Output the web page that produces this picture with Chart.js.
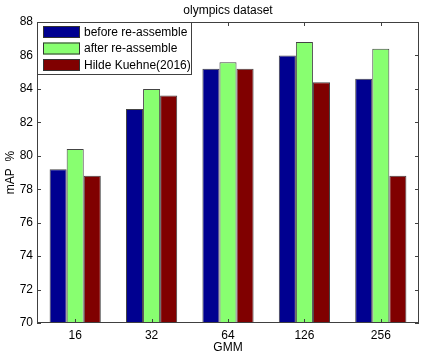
<!DOCTYPE html>
<html>
<head>
<meta charset="utf-8">
<script src="https://cdn.jsdelivr.net/npm/chart.js@4"></script>
<style>
  html, body { margin: 0; padding: 0; background: #fff; }
  #wrap { width: 425px; height: 356px; }
</style>
</head>
<body>
<div id="wrap"><canvas id="c" width="425" height="356"></canvas></div>
<script>
const categories = ['16', '32', '64', '126', '256'];
const beforeReassemble = [79.2, 82.8, 85.2, 86.0, 84.6];
const afterReassemble  = [80.4, 84.0, 85.6, 86.8, 86.4];
const hildeKuehne      = [78.8, 83.6, 85.2, 84.4, 78.8];
const yTicks = [70, 72, 74, 76, 78, 80, 82, 84, 86, 88];

const FONT = 'Arial, "Liberation Sans", sans-serif';
const AXIS = '#404040';

// box around plot, inward ticks on all four sides, title and legend in top-left
const matlabFrame = {
    id: 'matlabFrame',
    afterDatasetsDraw(chart) {
        const { ctx, chartArea: a, scales: { x, y } } = chart;
        ctx.save();
        ctx.strokeStyle = AXIS;
        ctx.lineWidth = 1;
        ctx.strokeRect(a.left + 0.5, a.top + 0.5, a.right - a.left - 1, a.bottom - a.top - 1);
        ctx.beginPath();
        for (const v of yTicks) {
            const py = Math.round(y.getPixelForValue(v)) + 0.5;
            ctx.moveTo(a.left, py);  ctx.lineTo(a.left + 4, py);
            ctx.moveTo(a.right, py); ctx.lineTo(a.right - 4, py);
        }
        categories.forEach((_, i) => {
            const px = Math.round(x.getPixelForValue(i)) + 0.5;
            ctx.moveTo(px, a.bottom); ctx.lineTo(px, a.bottom - 4);
            ctx.moveTo(px, a.top);    ctx.lineTo(px, a.top + 4);
        });
        ctx.stroke();

        // title
        ctx.fillStyle = '#000';
        ctx.font = `12px ${FONT}`;
        ctx.textAlign = 'center';
        ctx.textBaseline = 'middle';
        ctx.fillText('olympics dataset', (a.left + a.right) / 2, 11);

        // legend
        const lx = a.left, ly = a.top, lw = 155, lh = 53;
        ctx.fillStyle = '#fff';
        ctx.fillRect(lx, ly, lw, lh);
        ctx.strokeStyle = AXIS;
        ctx.strokeRect(lx + 0.5, ly + 0.5, lw - 1, lh - 1);
        ctx.textAlign = 'left';
        chart.data.datasets.forEach((ds, i) => {
            const ry = ly + 4 + i * 16.5;
            ctx.fillStyle = ds.backgroundColor;
            ctx.fillRect(lx + 6, ry, 37, 12);
            ctx.strokeStyle = '#333';
            ctx.strokeRect(lx + 6.5, ry + 0.5, 36, 11);
            ctx.fillStyle = '#000';
            ctx.fillText(ds.label, lx + 47, ry + 6.5);
        });
        ctx.restore();
    }
};

new Chart(document.getElementById('c'), {
    type: 'bar',
    data: {
        labels: categories,
        datasets: [
            { label: 'before re-assemble',  data: beforeReassemble, backgroundColor: '#000090' },
            { label: 'after re-assemble',   data: afterReassemble,  backgroundColor: '#88ff70' },
            { label: 'Hilde Kuehne(2016)',  data: hildeKuehne,      backgroundColor: '#800000' },
        ].map(d => ({ ...d, borderColor: '#444', borderWidth: 1, categoryPercentage: 0.67, barPercentage: 1 })),
    },
    options: {
        responsive: false,
        animation: false,
        layout: { padding: { left: 0, right: 6, top: 22, bottom: 0 } },
        plugins: { legend: { display: false }, title: { display: false }, tooltip: { enabled: false } },
        scales: {
            x: {
                grid: { display: false, drawTicks: false },
                border: { display: false },
                ticks: { color: '#000', font: { family: FONT, size: 12 }, padding: 5 },
                title: { display: true, text: 'GMM', color: '#000', font: { family: FONT, size: 12 }, padding: { top: 0, bottom: 1 } },
                afterFit: s => { s.height = 33; },
            },
            y: {
                min: 70, max: 88,
                grid: { display: false, drawTicks: false },
                border: { display: false },
                afterBuildTicks: s => { s.ticks = yTicks.map(v => ({ value: v })); },
                ticks: { color: '#000', font: { family: FONT, size: 12 }, padding: 4 },
                title: { display: true, text: 'mAP  %', color: '#000', font: { family: FONT, size: 12 }, padding: { top: 3, bottom: 0 } },
                afterFit: s => { s.width = 37; },
            },
        },
    },
    plugins: [matlabFrame],
});
</script>
</body>
</html>
